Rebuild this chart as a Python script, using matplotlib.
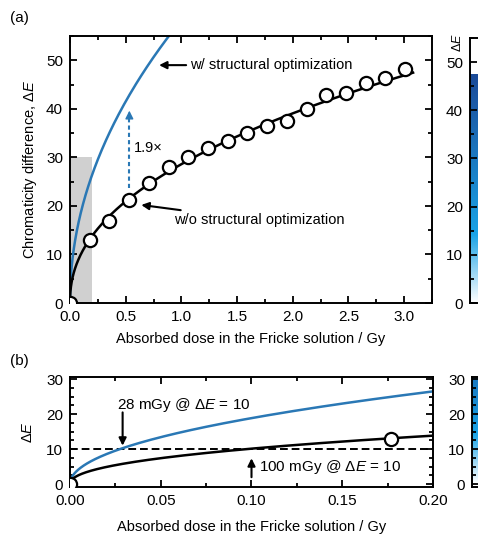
import numpy as np
import matplotlib.pyplot as plt
from matplotlib.colors import LinearSegmentedColormap
from matplotlib.ticker import MultipleLocator

plt.rcParams['font.family'] = ['Liberation Sans', 'DejaVu Sans']
plt.rcParams['mathtext.fontset'] = 'custom'
plt.rcParams['mathtext.rm'] = 'Liberation Sans'
plt.rcParams['mathtext.it'] = 'Liberation Sans:italic'
plt.rcParams['font.size'] = 11

# measured points (w/o structural optimization)
doses = [0, 0.177, 0.354, 0.531, 0.708, 0.885, 1.062, 1.239, 1.416, 1.593,
         1.770, 1.947, 2.124, 2.301, 2.478, 2.655, 2.832, 3.009]
delta_e = [0, 13.0, 16.8, 21.3, 24.7, 28.0, 30.1, 32.0, 33.3, 35.0,
           36.5, 37.5, 39.9, 42.8, 43.3, 45.4, 46.3, 48.3]

# power-law fits dE = a * D**b
fit_wo = (28.6, 0.45)   # w/o structural optimization
fit_w = (58.3, 0.49)    # w/ structural optimization

# colour bar extents (max dE shown in each strip)
bar_top_a = 47.5
bar_top_b = 30

blue = '#2a78b5'
cmap = LinearSegmentedColormap.from_list(
    'de', [(0, '#ffffff'), (0.3, '#1aa3e6'), (1, '#1c4a98')])


def power(fit, d):
    return fit[0] * d ** fit[1]


def style_axes(ax, xmaj, xmin, ymaj, ymin):
    ax.xaxis.set_major_locator(MultipleLocator(xmaj))
    ax.xaxis.set_minor_locator(MultipleLocator(xmin))
    ax.yaxis.set_major_locator(MultipleLocator(ymaj))
    ax.yaxis.set_minor_locator(MultipleLocator(ymin))
    ax.tick_params(which='both', direction='in', top=True, right=True, width=1.3)
    ax.tick_params(which='major', length=5, labelsize=11, pad=5)
    ax.tick_params(which='minor', length=3)
    for s in ax.spines.values():
        s.set_linewidth(1.4)


def color_strip(ax, top, ymax, ylo, ymaj, ymin):
    ax.imshow(np.linspace(0, top, 256).reshape(-1, 1), cmap=cmap, vmin=0,
              vmax=bar_top_a, origin='lower', aspect='auto',
              extent=[0, 1, 0, top])
    ax.set_xlim(0, 1)
    ax.set_ylim(ylo, ymax)
    ax.set_xticks([])
    ax.yaxis.set_major_locator(MultipleLocator(ymaj))
    ax.yaxis.set_minor_locator(MultipleLocator(ymin))
    ax.tick_params(which='both', direction='in', width=1.3)
    ax.tick_params(which='major', length=5, labelsize=11, pad=5)
    ax.tick_params(which='minor', length=3)
    for s in ax.spines.values():
        s.set_linewidth(1.4)


fig = plt.figure(figsize=(4.78, 5.35), dpi=100)

# ---------- panel (a) ----------
ax1 = fig.add_axes([0.1464, 0.4336, 0.7574, 0.4991])
d = np.geomspace(1e-5, 3.08, 500)
ax1.add_patch(plt.Rectangle((0, 0), 0.2, 30, color='#d0d0d0', lw=0, zorder=0))
ax1.plot(np.r_[0, d], np.r_[0, power(fit_w, d)], color=blue, lw=1.8)
ax1.plot(np.r_[0, d], np.r_[0, power(fit_wo, d)], color='black', lw=1.8)
ax1.plot(doses, delta_e, 'o', ms=9.5, mfc='white', mec='black', mew=1.6, zorder=5)

# 1.9x arrow
ax1.plot([0.533, 0.533], [23.7, 38.5], color=blue, lw=1.5, ls=(0, (2, 1.5)))
ax1.annotate('', xy=(0.533, 40.2), xytext=(0.533, 38.0),
             arrowprops=dict(arrowstyle='-|>', color=blue, lw=1, mutation_scale=12))
ax1.text(0.57, 32, '1.9×', fontsize=10.5, va='center')

ax1.annotate('w/ structural optimization', xy=(0.80, 49), xytext=(1.08, 49),
             fontsize=10.5, va='center',
             arrowprops=dict(arrowstyle='-|>', color='black', lw=1.5, mutation_scale=11,
                             shrinkA=1, shrinkB=0))
ax1.annotate('w/o structural optimization', xy=(0.64, 20.2), xytext=(0.93, 17),
             fontsize=10.5, va='center',
             arrowprops=dict(arrowstyle='-|>', color='black', lw=1.5, mutation_scale=11,
                             shrinkA=3, shrinkB=0))

ax1.set_xlim(0, 3.25)
ax1.set_ylim(0, 55)
style_axes(ax1, 0.5, 0.25, 10, 5)
ax1.xaxis.set_major_formatter('{x:.1f}')
ax1.set_xlabel('Absorbed dose in the Fricke solution / Gy', fontsize=10.5, labelpad=6)
ax1.set_ylabel('Chromaticity difference, Δ$E$', fontsize=10.5, labelpad=5)

cb1 = fig.add_axes([0.9833, 0.4336, 0.06, 0.4954])
color_strip(cb1, bar_top_a, 55, 0, 10, 5)
fig.text(0.958, 0.92, 'Δ$E$', rotation=90, fontsize=9, ha='center', va='center')

# ---------- panel (b) ----------
ax2 = fig.add_axes([0.1464, 0.0897, 0.7595, 0.2056])
d2 = np.geomspace(1e-6, 0.2, 400)
ax2.axhline(10, color='black', lw=1.4, ls=(0, (4, 2)))
ax2.plot(np.r_[0, d2], np.r_[0, power(fit_w, d2)], color=blue, lw=1.8)
ax2.plot(np.r_[0, d2], np.r_[0, power(fit_wo, d2)], color='black', lw=1.8)
ax2.plot(doses, delta_e, 'o', ms=9.5, mfc='white', mec='black', mew=1.6, zorder=5)

ax2.annotate('', xy=(0.029, 11.0), xytext=(0.029, 20.5),
             arrowprops=dict(arrowstyle='-|>', color='black', lw=1.5, mutation_scale=11,
                             shrinkA=0, shrinkB=0))
ax2.text(0.026, 22.6, '28 mGy @ Δ$E$ = 10', fontsize=11, va='center')
ax2.annotate('', xy=(0.100, 7.4), xytext=(0.100, 2.0),
             arrowprops=dict(arrowstyle='-|>', color='black', lw=1.5, mutation_scale=11,
                             shrinkA=0, shrinkB=0))
ax2.text(0.104, 4.9, '100 mGy @ Δ$E$ = 10', fontsize=11, va='center')

ax2.set_xlim(0, 0.2)
ax2.set_ylim(-0.8, 30.6)
style_axes(ax2, 0.05, 0.025, 10, 2.5)
ax2.xaxis.set_major_formatter('{x:.2f}')
ax2.set_xlabel('Absorbed dose in the Fricke solution / Gy', fontsize=10.5, labelpad=9)
ax2.set_ylabel('Δ$E$', fontsize=10.5, labelpad=8)

cb2 = fig.add_axes([0.9874, 0.0897, 0.06, 0.2056])
color_strip(cb2, bar_top_b, 30.6, -0.8, 10, 2.5)

fig.text(0.02, 0.958, '(a)', fontsize=11)
fig.text(0.02, 0.318, '(b)', fontsize=11)

fig.savefig('out.png', dpi=100)
